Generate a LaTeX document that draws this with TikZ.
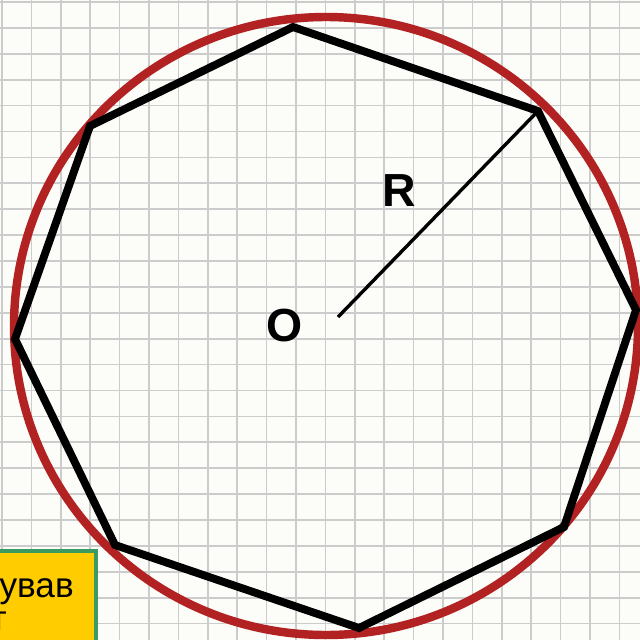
\documentclass[tikz,border=0pt]{standalone}
\usepackage{fontspec}
\setmainfont{Liberation Sans}
\definecolor{paper}{HTML}{FCFCF8}
\definecolor{circred}{HTML}{B22222}
\definecolor{boxgreen}{HTML}{3A9A62}
\definecolor{boxyellow}{HTML}{FFCC00}
\begin{document}
\begin{tikzpicture}[
  x=0.025cm, y=-0.025cm,
  gridline/.style={draw=black!20,line width=1.2pt},
  circumline/.style={draw=circred,line width=6pt},
  polyline/.style={draw=black,line width=5.6pt,line join=miter},
  radiusline/.style={draw=black,line width=2.4pt},
  pointlabel/.style={font=\fontsize{33}{33}\selectfont\bfseries,inner sep=0pt},
  notebox/.style={draw=boxgreen,line width=2.8pt,fill=boxyellow},
  notetext/.style={font=\fontsize{25}{30}\selectfont,inner sep=0pt},
]
\useasboundingbox (0,0) rectangle (640,640);
\clip (0,0) rectangle (640,640);
\fill[paper] (0,0) rectangle (640,640);

% graph paper
\foreach \i in {0,...,21}
  \draw[gridline] ({2+29.4*\i},0) -- ({2+29.4*\i},640);
\foreach \j in {0,...,24}
  \draw[gridline] (0,{2+25.9*\j}) -- (640,{2+25.9*\j});

% circumscribed circle
\draw[circumline] (326,326) ellipse [x radius=312, y radius=309];

% octagon vertices
\coordinate (v1) at (293,27);
\coordinate (v2) at (538,111);
\coordinate (v3) at (636,310);
\coordinate (v4) at (564,527);
\coordinate (v5) at (359,628);
\coordinate (v6) at (115,545);
\coordinate (v7) at (15,339);
\coordinate (v8) at (90,126);
\draw[polyline] (v1) -- (v2) -- (v3) -- (v4) -- (v5) -- (v6) -- (v7) -- (v8) -- cycle;

% radius
\coordinate (centre) at (338,317);
\draw[radiusline] (centre) -- (v2);
\node[pointlabel] (olabel) at (285,326) {O};
\node[pointlabel] (rlabel) at (399,191) {R};

% note box
\draw[notebox] (-10,551) rectangle (96,660);
\node[notetext,anchor=base east] (note) at (74,597) {ував};
\node[notetext,anchor=base east] (notecut) at (7,630) {т};

\end{tikzpicture}
\end{document}
